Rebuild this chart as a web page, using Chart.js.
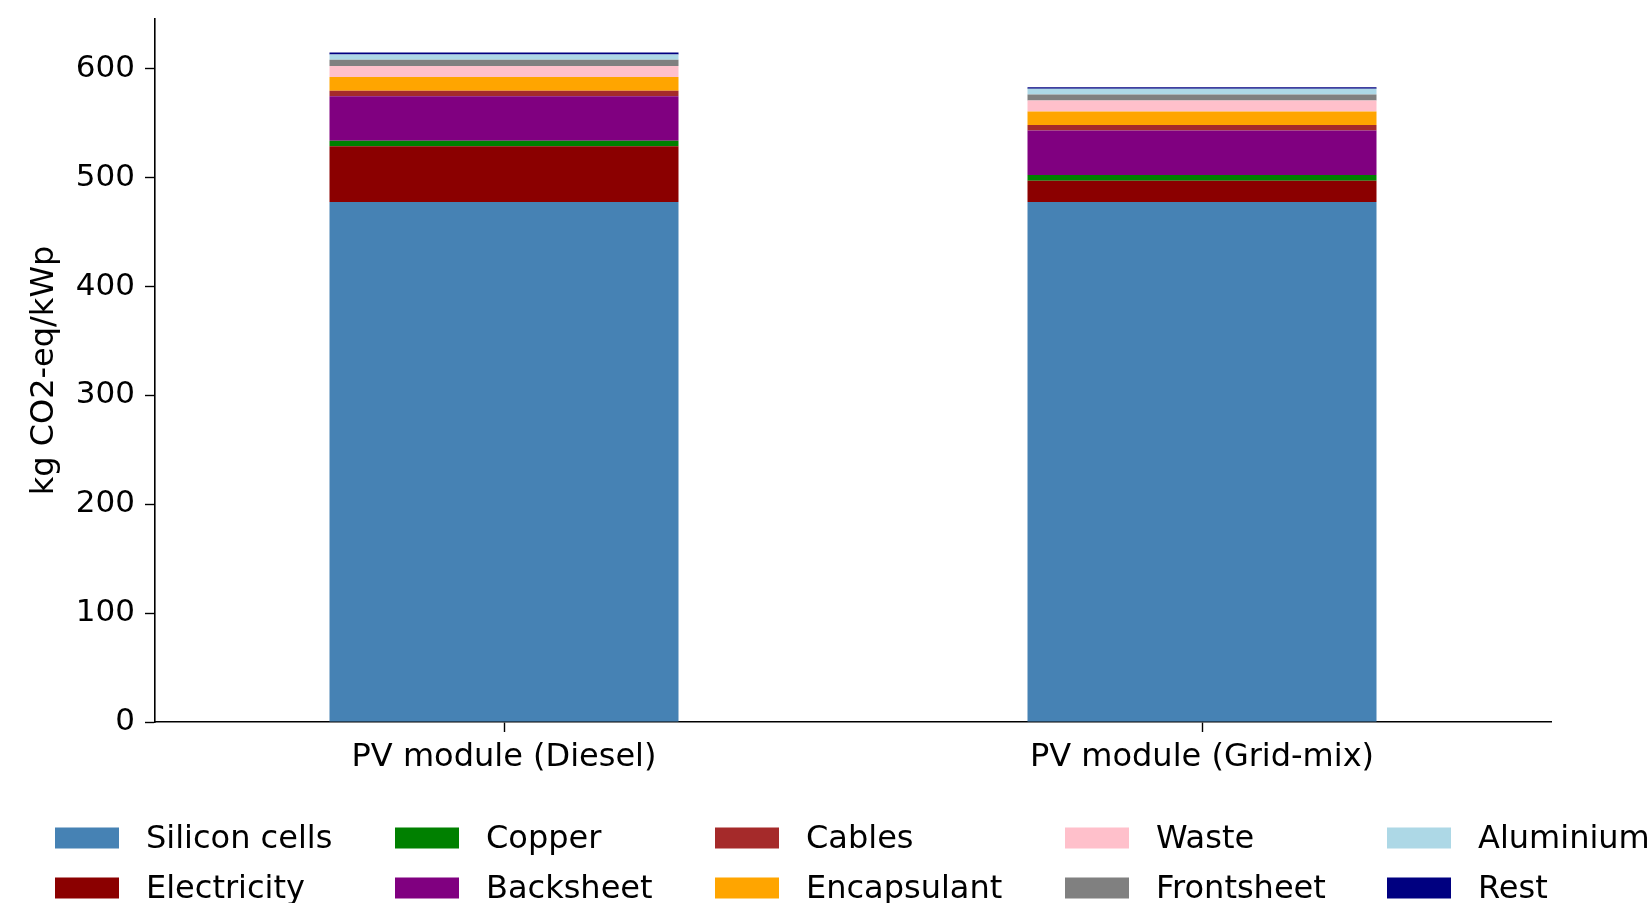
<!DOCTYPE html>
<html>
<head>
<meta charset="utf-8">
<script src="https://cdn.jsdelivr.net/npm/chart.js@4.4.1/dist/chart.umd.min.js"></script>
<style>
  html, body { margin: 0; padding: 0; background: #ffffff; }
  #wrap { width: 1648px; height: 903px; }
</style>
</head>
<body>
<div id="wrap"><canvas id="c" width="1648" height="903"></canvas></div>
<script>
// Life-cycle emissions of a PV module, split by contribution (kg CO2-eq per kWp)
const categories = ['PV module (Diesel)', 'PV module (Grid-mix)'];

const siliconCells = [477.5, 477.5];
const electricity  = [51.2, 19.5];
const copper       = [5.2, 5.3];
const backsheet    = [40.7, 41.0];
const cables       = [5.2, 4.9];
const encapsulant  = [12.5, 12.5];
const waste        = [10.1, 10.1];
const frontsheet   = [5.8, 5.5];
const aluminium    = [4.9, 5.2];
const rest         = [1.8, 1.5];

const yTicks = [0, 100, 200, 300, 400, 500, 600];
const yLabel = 'kg CO2-eq/kWp';

const FONT = 'DejaVu Sans';
const FS_TICK = 31;
const FS = 32;

const series = [
  ['Silicon cells', siliconCells, '#4682B4'],
  ['Electricity',   electricity,  '#8B0000'],
  ['Copper',        copper,       '#008000'],
  ['Backsheet',     backsheet,    '#800080'],
  ['Cables',        cables,       '#A52A2A'],
  ['Encapsulant',   encapsulant,  '#FFA500'],
  ['Waste',         waste,        '#FFC0CB'],
  ['Frontsheet',    frontsheet,   '#808080'],
  ['Aluminium',     aluminium,    '#ADD8E6'],
  ['Rest',          rest,         '#000080']
];

const totals = categories.map((_, i) => series.reduce((s, d) => s + d[1][i], 0));
const yMax = Math.max(...totals) * 1.05;

// Two-row legend filled column by column
const columnLegend = {
  id: 'columnLegend',
  afterDraw(chart) {
    const ctx = chart.ctx;
    const colX = [55, 395, 715, 1065, 1387];
    const rowY = [838, 888];
    const swW = 64, swH = 21, gap = 27;
    ctx.save();
    ctx.font = FS + 'px "' + FONT + '"';
    ctx.textBaseline = 'middle';
    ctx.textAlign = 'left';
    chart.data.datasets.forEach((ds, i) => {
      const col = Math.floor(i / 2), row = i % 2;
      const x = colX[col], y = rowY[row];
      ctx.fillStyle = ds.backgroundColor;
      ctx.fillRect(x, y - swH / 2, swW, swH);
      ctx.fillStyle = '#000000';
      ctx.fillText(ds.label, x + swW + gap, y + 2);
    });
    ctx.restore();
  }
};

new Chart(document.getElementById('c'), {
  type: 'bar',
  data: {
    labels: categories,
    datasets: series.map(([label, data, color]) => ({
      label, data,
      backgroundColor: color,
      borderWidth: 0,
      barPercentage: 0.5,
      categoryPercentage: 1.0
    }))
  },
  options: {
    responsive: false,
    animation: false,
    devicePixelRatio: 1,
    layout: { padding: { top: 19, right: 97, bottom: 0, left: 0 } },
    plugins: {
      legend: { display: false },
      tooltip: { enabled: false }
    },
    scales: {
      x: {
        stacked: true,
        grid: {
          offset: false,
          drawOnChartArea: false,
          tickLength: 10,
          tickWidth: 1.4,
          tickColor: '#000000'
        },
        border: { color: '#000000', width: 1.6 },
        ticks: {
          color: '#000000',
          font: { family: FONT, size: FS },
          padding: 6,
          maxRotation: 0
        },
        afterFit(scale) {
          scale.height = 181;
          scale.paddingLeft = 0;
          scale.paddingRight = 0;
        }
      },
      y: {
        stacked: true,
        min: 0,
        max: yMax,
        afterBuildTicks(scale) { scale.ticks = yTicks.map(v => ({ value: v })); },
        grid: {
          drawOnChartArea: false,
          tickLength: 10,
          tickWidth: 1.4,
          tickColor: '#000000'
        },
        border: { color: '#000000', width: 1.6 },
        ticks: {
          color: '#000000',
          font: { family: FONT, size: FS_TICK },
          padding: 10
        },
        title: {
          display: true,
          text: yLabel,
          color: '#000000',
          font: { family: FONT, size: FS },
          padding: { top: 25, bottom: 0 }
        },
        afterFit(scale) {
          scale.width = 155;
          scale.paddingTop = 0;
          scale.paddingBottom = 0;
        }
      }
    }
  },
  plugins: [columnLegend]
});
</script>
</body>
</html>
